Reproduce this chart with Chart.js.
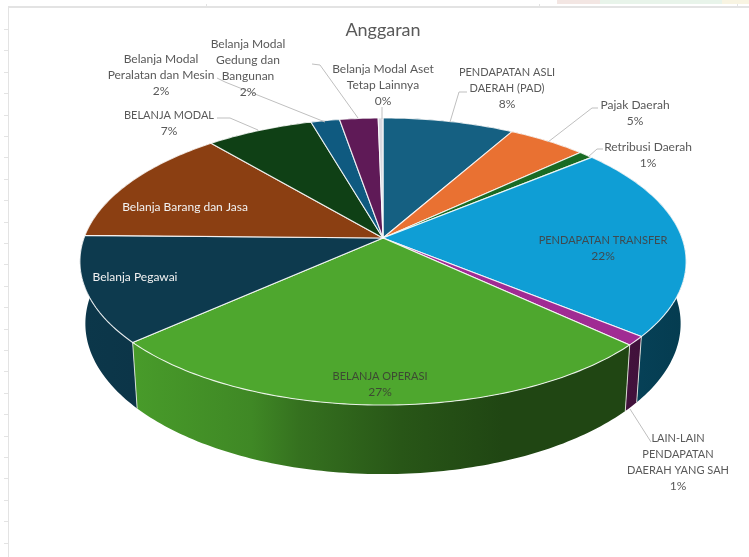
<!DOCTYPE html>
<html>
<head>
<meta charset="utf-8">
<title>Anggaran</title>
<script src="https://cdn.jsdelivr.net/npm/chart.js@4/dist/chart.umd.min.js"></script>
<style>
  html, body { margin: 0; padding: 0; background: #fff; }
  canvas { display: block; }
</style>
</head>
<body>
<canvas id="anggaran" width="749" height="557"></canvas>
<script>
const categories = [
  "PENDAPATAN ASLI DAERAH (PAD)", "Pajak Daerah", "Retribusi Daerah", "PENDAPATAN TRANSFER",
  "LAIN-LAIN PENDAPATAN DAERAH YANG SAH", "BELANJA OPERASI", "Belanja Pegawai",
  "Belanja Barang dan Jasa", "BELANJA MODAL", "Belanja Modal Peralatan dan Mesin",
  "Belanja Modal Gedung dan Bangunan", "Belanja Modal Aset Tetap Lainnya"
];
const shares = [8.2, 4.9, 0.9, 21.9, 1.0, 26.5, 11.9, 13.5, 6.7, 1.8, 2.4, 0.3];
const sliceColors = [
  "#156082", "#E97132", "#196B24", "#0F9ED5", "#A02B93", "#4EA72E",
  "#0D3A4E", "#8B3F12", "#0F4015", "#0F5A80", "#5F1A57", "#D9D9E0"
];
// how each label is wrapped
const labelLines = [
  ["PENDAPATAN ASLI", "DAERAH (PAD)"], ["Pajak Daerah"], ["Retribusi Daerah"], ["PENDAPATAN TRANSFER"],
  ["LAIN-LAIN", "PENDAPATAN", "DAERAH YANG SAH"], ["BELANJA OPERASI"], ["Belanja Pegawai"],
  ["Belanja Barang dan Jasa"], ["BELANJA MODAL"], ["Belanja Modal", "Peralatan dan Mesin"],
  ["Belanja Modal", "Gedung dan", "Bangunan"], ["Belanja Modal Aset", "Tetap Lainnya"]
];
const showPercent = [true, true, true, true, true, true, false, false, true, true, true, true];

// label placement: centre x, first line y, text colour
const labelPlace = [
  [507, 72, "#595959"], [635, 105, "#595959"], [648, 147, "#595959"], [603, 240, "#3f4a50"],
  [678, 438, "#595959"], [380, 376, "#3d4a33"], [135, 277, "#f2f2f2"], [185, 207, "#f2f2f2"],
  [169, 115, "#595959"], [161, 59, "#595959"], [248, 44, "#595959"], [383, 69, "#595959"]
];
const leaderLines = [
  [[467, 92], [459, 92], [450, 122]],
  [[598, 108], [592, 108], [548, 142]],
  [[603, 149], [597, 149], [588, 157]],
  [[651, 442], [630, 409]],
  [[217, 118], [230, 118], [258, 130]],
  [[217, 78], [225, 82], [325, 122]],
  [[312, 64], [320, 65], [358, 118]],
  [[382, 107], [382, 119]]
];

// view of the tilted disc
const RX = 299, RY = 139.7, PERSP = 0.1638;
const BOTTOM_SX = 0.982, BOTTOM_SY = 1.048, BOTTOM_DY = 61;
// wall shading from left to right: [position, brightness]
const wallShade = [[0, 0.95], [0.085, 0.93], [0.28, 0.82], [0.36, 0.68], [0.53, 0.52], [0.7, 0.42], [0.9, 0.42], [1, 0.38]];

function project(el, angle, isBottom) {
  const u = Math.cos(angle), v = Math.sin(angle);
  const w = 1 / (1 - PERSP * v);
  const dx = RX * u * w, dy = RY * v * w;
  if (!isBottom) return [el.x + dx, el.y + dy];
  return [el.x + dx * BOTTOM_SX, el.y + dy * BOTTOM_SY + BOTTOM_DY];
}

function arcPoints(el, isBottom) {
  const pts = [];
  const steps = Math.max(4, Math.ceil((el.endAngle - el.startAngle) * 60));
  for (let i = 0; i <= steps; i++) {
    pts.push(project(el, el.startAngle + (el.endAngle - el.startAngle) * i / steps, isBottom));
  }
  return pts;
}

function shade(hex, f) {
  const n = parseInt(hex.slice(1), 16);
  return `rgb(${((n >> 16) & 255) * f | 0},${((n >> 8) & 255) * f | 0},${(n & 255) * f | 0})`;
}

const pie3d = {
  id: "pie3d",
  beforeDatasetDraw(chart, args) {
    const { ctx } = chart;
    const arcs = args.meta.data;
    ctx.save();
    ctx.lineJoin = "round";

    // outer wall first, the top face covers the back half
    arcs.forEach((el) => {
      const top = arcPoints(el, false), bottom = arcPoints(el, true).reverse();
      const base = el.options.backgroundColor;
      const grad = ctx.createLinearGradient(el.x - RX, 0, el.x + RX, 0);
      wallShade.forEach((s) => grad.addColorStop(s[0], shade(base, s[1])));
      ctx.beginPath();
      top.concat(bottom).forEach((p, i) => (i ? ctx.lineTo(p[0], p[1]) : ctx.moveTo(p[0], p[1])));
      ctx.closePath();
      ctx.fillStyle = grad;
      ctx.fill();
      // seam down the wall
      const first = top[0], last = bottom[bottom.length - 1];
      ctx.beginPath();
      ctx.moveTo(first[0], first[1]);
      ctx.lineTo(last[0], last[1]);
      ctx.strokeStyle = "rgba(235,240,230,0.85)";
      ctx.lineWidth = 1;
      ctx.stroke();
    });

    // top face
    arcs.forEach((el) => {
      ctx.beginPath();
      ctx.moveTo(el.x, el.y);
      arcPoints(el, false).forEach((p) => ctx.lineTo(p[0], p[1]));
      ctx.closePath();
      ctx.fillStyle = el.options.backgroundColor;
      ctx.fill();
      ctx.strokeStyle = "rgba(255,255,255,0.85)";
      ctx.lineWidth = 1.1;
      ctx.stroke();
    });
    ctx.restore();
    return false;
  },
  afterDatasetsDraw(chart) {
    const { ctx } = chart;
    const total = shares.reduce((a, b) => a + b, 0);
    ctx.save();
    ctx.strokeStyle = "#bfbfbf";
    ctx.lineWidth = 1;
    leaderLines.forEach((line) => {
      ctx.beginPath();
      line.forEach((p, i) => (i ? ctx.lineTo(p[0], p[1]) : ctx.moveTo(p[0], p[1])));
      ctx.stroke();
    });
    ctx.textAlign = "center";
    ctx.textBaseline = "middle";
    categories.forEach((name, i) => {
      const [x, y, color] = labelPlace[i];
      const lines = labelLines[i].slice();
      if (showPercent[i]) lines.push(Math.round(shares[i] / total * 100) + "%");
      ctx.fillStyle = color;
      lines.forEach((text, n) => {
        // capitals run wide in this face
        ctx.font = (text === text.toUpperCase() && !text.endsWith("%") ? "11px" : "12px") + " Lato";
        ctx.fillText(text, x, y + n * 16);
      });
    });
    ctx.restore();
  },
  beforeDraw(chart) {
    // bits of the spreadsheet behind the chart
    const { ctx, width, height } = chart;
    ctx.save();
    ctx.fillStyle = "#e3e3e3";
    ctx.fillRect(8, 6, width - 8, 2);
    ctx.fillRect(8, 6, 1, height - 6);
    for (let y = 29; y < height; y += 21.4) ctx.fillRect(4, Math.round(y), 4, 1);
    [206, 539, 737].forEach((x) => ctx.fillRect(x, 4, 1, 2));
    ctx.fillStyle = "#f3e6e3";
    ctx.fillRect(557, 0, 43, 4);
    ctx.fillStyle = "#e8f4ea";
    ctx.fillRect(600, 0, 122, 4);
    ctx.fillStyle = "#f8f4e2";
    ctx.fillRect(722, 0, 27, 4);
    ctx.restore();
  }
};

new Chart(document.getElementById("anggaran"), {
  type: "pie",
  data: {
    labels: categories,
    datasets: [{ data: shares, backgroundColor: sliceColors, borderWidth: 0 }]
  },
  options: {
    responsive: false,
    animation: false,
    layout: { padding: { left: 17, bottom: 121.6, top: 0 } },
    plugins: {
      legend: { display: false },
      tooltip: { enabled: false },
      title: {
        display: true,
        text: "Anggaran",
        color: "#595959",
        font: { family: "Lato", size: 18, weight: "normal" },
        padding: { top: 19, bottom: 0 }
      }
    }
  },
  plugins: [pie3d]
});
</script>
</body>
</html>
